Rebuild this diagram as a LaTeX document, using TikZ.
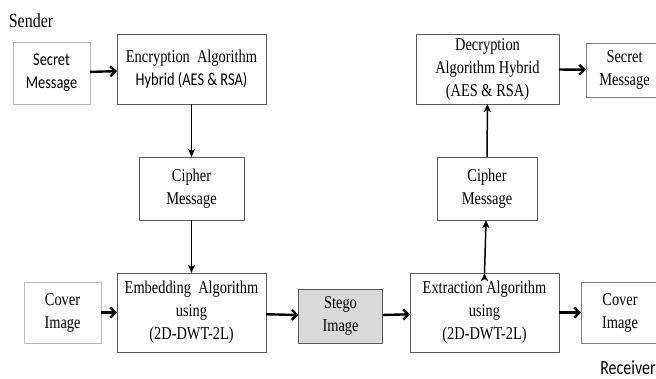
\documentclass[tikz,border=0pt]{standalone}
\usepackage{fontspec}
\setmainfont{Liberation Serif}[FakeStretch=0.8]
\newfontfamily\calfont{Carlito}[FakeStretch=0.8]
\usetikzlibrary{arrows.meta}
\definecolor{boxgray}{HTML}{5A5A5A}
\definecolor{lightedge}{HTML}{BBBBBB}
\definecolor{stegofill}{HTML}{D9D9D9}
\tikzset{
  blockbox/.style={draw=boxgray,line width=0.9pt,inner sep=0pt,outer sep=0pt,align=center,font=\fontsize{18}{23}\selectfont},
  inbox/.style={blockbox,draw=lightedge},
  flow/.style={black,line width=2.4pt,-{Straight Barb[length=5pt,width=10pt]}},
  upflow/.style={black,line width=1.5pt,-{Stealth[length=8pt,width=7pt,inset=2pt]}},
}
\begin{document}
\begin{tikzpicture}[x=1pt,y=-1pt,>=latex,line join=bevel,]
%%
  \useasboundingbox (0,0) rectangle (656,379);
  \node (node_sender) at (31,21) [font=\fontsize{20}{24}\selectfont] {Sender};
  \node (node_receiver) at (628,368) [font=\calfont\fontsize{20}{24}\selectfont] {Receiver};

  \node (node_secretin) at (51.5,73) [inbox,minimum width=77,minimum height=62] {\calfont Secret\\\calfont Message};
  \node (node_encrypt) at (191.5,69) [blockbox,minimum width=149,minimum height=70] {Encryption \ Algorithm\\\calfont Hybrid (AES \& RSA)};
  \node (node_cipherin) at (191.5,188.5) [blockbox,minimum width=105,minimum height=63] {Cipher\\Message};
  \node (node_coverin) at (62.5,312.5) [inbox,minimum width=77,minimum height=61] {Cover\\Image};
  \node (node_embed) at (191.5,312.5) [blockbox,minimum width=149,minimum height=79] {Embedding \ Algorithm\\using\\(2D-DWT-2L)};
  \node (node_stego) at (340.5,316) [blockbox,fill=stegofill,minimum width=84,minimum height=54] {Stego\\Image};
  \node (node_extract) at (484.5,312.5) [blockbox,minimum width=149,minimum height=79] {Extraction Algorithm\\using\\(2D-DWT-2L)};
  \node (node_coverout) at (620,312.5) [blockbox,draw=gray,minimum width=78,minimum height=61] {Cover\\Image};
  \node (node_cipherout) at (487,188.5) [blockbox,minimum width=100,minimum height=63] {Cipher\\Message};
  \node (node_decrypt) at (487.5,69) [blockbox,minimum width=143,minimum height=70] {Decryption\\Algorithm Hybrid\\(AES \& RSA)};
  \node (node_secretout) at (624.5,70) [blockbox,draw=gray,minimum width=77,minimum height=54] {Secret\\Message};

  \draw [flow] (node_secretin) edge (node_encrypt);
  \draw [upflow] (node_encrypt) edge (node_cipherin);
  \draw [upflow] (node_cipherin) edge (node_embed);
  \draw [flow] (node_coverin) edge (node_embed);
  \draw [flow] (node_embed) edge (node_stego);
  \draw [flow] (node_stego) edge (node_extract);
  \draw [flow] (node_extract) edge (node_coverout);
  \draw [upflow] (node_extract.north) edge (node_cipherout);
  \draw [upflow] (node_cipherout) edge (node_decrypt);
  \draw [flow] (node_decrypt) edge (node_secretout);
%
\end{tikzpicture}
\end{document}
